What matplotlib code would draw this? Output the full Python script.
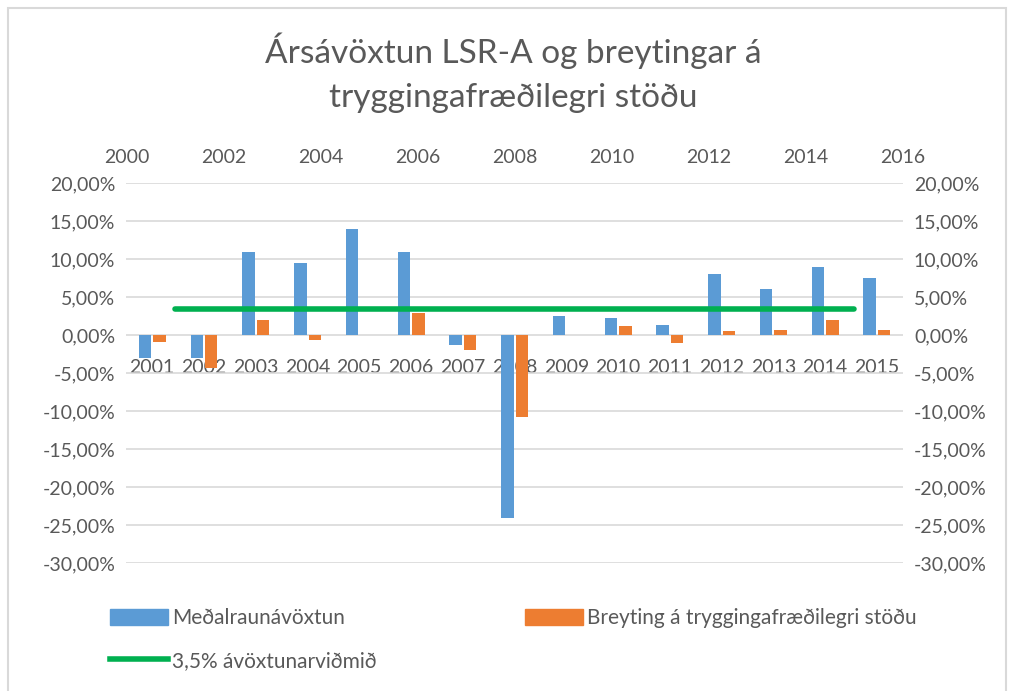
import numpy as np
import matplotlib
matplotlib.use("Agg")
import matplotlib.pyplot as plt
from matplotlib.patches import Patch, Rectangle
from matplotlib.lines import Line2D
from matplotlib.ticker import FuncFormatter

plt.rcParams["font.family"] = ["Lato", "DejaVu Sans"]

# Data (percent)
years = [2001, 2002, 2003, 2004, 2005, 2006, 2007, 2008,
         2009, 2010, 2011, 2012, 2013, 2014, 2015]
avoxtun = [-3.0, -3.0, 11.0, 9.5, 13.9, 10.9, -1.3, -24.0,
           2.5, 2.3, 1.3, 8.0, 6.1, 8.9, 7.5]
breyting = [-0.9, -4.3, 2.05, -0.6, 0.0, 2.9, -1.9, -10.8,
            0.0, 1.2, -1.1, 0.5, 0.7, 2.05, 0.7]
vidmid_years = [2001, 2015]
vidmid = [3.5, 3.5]

title = "Ársávöxtun LSR-A og breytingar á\ntryggingafræðilegri stöðu"
lbl_blue = "Meðalraunávöxtun"
lbl_orange = "Breyting á tryggingafræðilegri stöðu"
lbl_green = "3,5% ávöxtunarviðmið"

BLUE = "#5B9BD5"
ORANGE = "#ED7D31"
GREEN = "#00B050"
GREY = "#595959"
GRID = "#D9D9D9"

fig = plt.figure(figsize=(10.11, 6.91), dpi=100)
ax = fig.add_axes([0.125, 0.185, 0.768, 0.55])

x = np.arange(len(years))
w = 0.24
ax.bar(x - 0.14, avoxtun, w, color=BLUE, zorder=3)
ax.bar(x + 0.14, breyting, w, color=ORANGE, zorder=3)

ax.set_xlim(-0.5, len(years) - 0.5)
ax.set_ylim(-30, 20)
ax.set_yticks(np.arange(-30, 21, 5))
ax.yaxis.set_major_formatter(FuncFormatter(lambda v, p: f"{v:.2f}%".replace(".", ",")))
ax.grid(axis="y", color=GRID, lw=1.2, zorder=0)
for s in ax.spines.values():
    s.set_visible(False)
ax.set_xticks([])
ax.tick_params(axis="y", length=0, labelsize=14, labelcolor=GREY,
               labelleft=True, labelright=True, pad=8)

# category labels sit just under the zero line
for xi, yr in zip(x, years):
    ax.annotate(str(yr), (xi, 0), xytext=(0, -23), textcoords="offset points",
                ha="center", va="center", fontsize=14, color=GREY, zorder=1)

# secondary x axis on top with the benchmark line
ax3 = ax.twiny()
ax3.set_xlim(2000, 2016)
ax3.set_xticks(np.arange(2000, 2017, 2))
ax3.plot(vidmid_years, vidmid, color=GREEN, lw=4, solid_capstyle="round", zorder=4)
for s in ax3.spines.values():
    s.set_visible(False)
ax3.tick_params(axis="x", length=0, labelsize=14, labelcolor=GREY, pad=12)

fig.text(0.508, 0.895, title, ha="center", va="center", fontsize=24, color=GREY,
         linespacing=1.6)

handles = [Patch(color=BLUE), Line2D([], [], color=GREEN, lw=4),
           Patch(color=ORANGE)]
labels = [lbl_blue, lbl_green, lbl_orange]
fig.legend(handles, labels, ncol=2, loc="upper left", bbox_to_anchor=(0.09, 0.147),
           frameon=False, fontsize=15, labelcolor=GREY, handlelength=2.8,
           handleheight=0.85, handletextpad=0.2, columnspacing=7.1,
           labelspacing=1.1)

fig.patches.append(Rectangle((0.008, -0.01), 0.987, 0.998, transform=fig.transFigure,
                             fill=False, edgecolor=GRID, lw=1.5))

fig.savefig("out.png", dpi=100)
